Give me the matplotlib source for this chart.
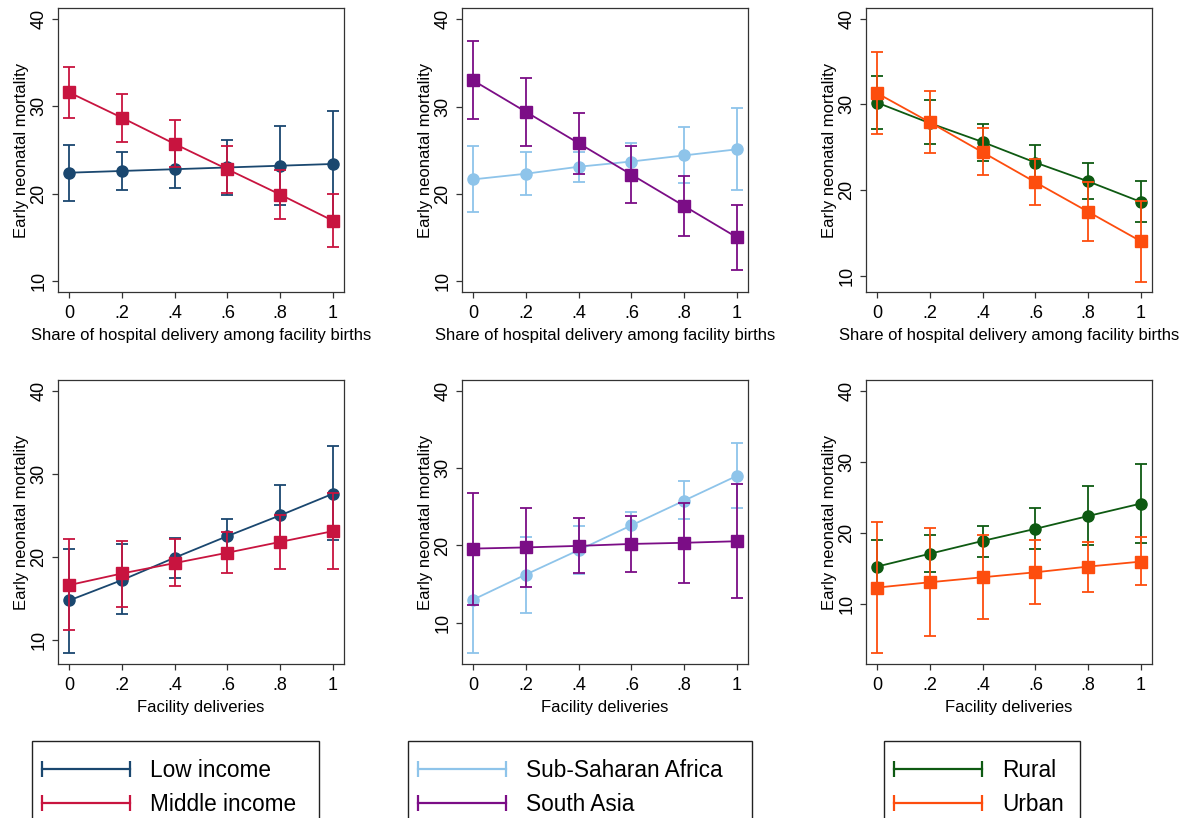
import matplotlib
matplotlib.use('Agg')
import matplotlib.pyplot as plt
from matplotlib.lines import Line2D
from matplotlib.patches import Rectangle

plt.rcParams['font.family'] = ['Liberation Sans', 'DejaVu Sans']

x = [0, 0.2, 0.4, 0.6, 0.8, 1]
xtick_labels = ['0', '.2', '.4', '.6', '.8', '1']

# hospital share panels (top row)
low_hosp = [22.4, 22.6, 22.8, 23.0, 23.2, 23.4]
low_hosp_lo = [19.2, 20.4, 20.6, 19.9, 18.7, 17.3]
low_hosp_hi = [25.6, 24.8, 25.0, 26.2, 27.8, 29.5]
mid_hosp = [31.6, 28.7, 25.7, 22.8, 19.9, 16.9]
mid_hosp_lo = [28.7, 25.9, 23.0, 20.1, 17.1, 13.9]
mid_hosp_hi = [34.5, 31.4, 28.4, 25.5, 22.7, 20.0]

ssa_hosp = [21.65, 22.3, 23.1, 23.7, 24.4, 25.1]
ssa_hosp_lo = [17.9, 19.9, 21.4, 21.6, 21.2, 20.4]
ssa_hosp_hi = [25.5, 24.8, 24.8, 25.8, 27.7, 29.8]
sa_hosp = [33.0, 29.4, 25.8, 22.2, 18.6, 15.0]
sa_hosp_lo = [28.6, 25.5, 22.3, 19.0, 15.2, 11.3]
sa_hosp_hi = [37.5, 33.3, 29.3, 25.5, 22.0, 18.7]

rur_hosp = [30.2, 27.8, 25.6, 23.2, 21.0, 18.6]
rur_hosp_lo = [27.1, 25.4, 23.4, 21.2, 18.9, 16.3]
rur_hosp_hi = [33.25, 30.5, 27.75, 25.3, 23.1, 21.1]
urb_hosp = [31.3, 27.9, 24.4, 20.9, 17.45, 14.0]
urb_hosp_lo = [26.5, 24.3, 21.7, 18.2, 14.0, 9.3]
urb_hosp_hi = [36.1, 31.5, 27.2, 23.6, 20.9, 18.7]

# facility delivery panels (bottom row)
low_fac = [14.75, 17.2, 19.9, 22.5, 25.0, 27.6]
low_fac_lo = [8.4, 13.1, 17.5, 20.4, 21.4, 22.0]
low_fac_hi = [20.9, 21.6, 22.3, 24.6, 28.7, 33.3]
mid_fac = [16.6, 18.0, 19.25, 20.5, 21.8, 23.1]
mid_fac_lo = [11.2, 14.0, 16.5, 18.1, 18.6, 18.6]
mid_fac_hi = [22.1, 21.9, 22.1, 23.0, 25.0, 27.7]

ssa_fac = [13.0, 16.25, 19.4, 22.6, 25.8, 29.0]
ssa_fac_lo = [6.1, 11.3, 16.3, 20.9, 23.4, 24.8]
ssa_fac_hi = [19.9, 21.1, 22.5, 24.3, 28.3, 33.3]
sa_fac = [19.6, 19.75, 19.95, 20.2, 20.35, 20.55]
sa_fac_lo = [12.3, 14.7, 16.5, 16.6, 15.2, 13.2]
sa_fac_hi = [26.8, 24.8, 23.5, 23.8, 25.5, 28.0]

rur_fac = [15.3, 17.1, 18.9, 20.6, 22.4, 24.15]
rur_fac_lo = [11.6, 14.6, 16.7, 17.8, 18.3, 18.6]
rur_fac_hi = [19.0, 19.7, 21.05, 23.5, 26.55, 29.75]
urb_fac = [12.35, 13.1, 13.8, 14.5, 15.3, 16.0]
urb_fac_lo = [3.1, 5.5, 7.9, 10.1, 11.8, 12.7]
urb_fac_hi = [21.6, 20.7, 19.8, 19.1, 18.8, 19.4]

group_labels = [['Low income', 'Middle income'],
                ['Sub-Saharan Africa', 'South Asia'],
                ['Rural', 'Urban']]
group_colors = [['#1a476f', '#c8143f'],
                ['#8ec4ea', '#7b0d86'],
                ['#0e5a12', '#fd4d0e']]

xlab_top = 'Share of hospital delivery among facility births'
xlab_bot = 'Facility deliveries'

# (series A, lo, hi, series B, lo, hi, ylim bottom, ylim top)
panels = [
    [(low_hosp, low_hosp_lo, low_hosp_hi, mid_hosp, mid_hosp_lo, mid_hosp_hi, 8.74, 41.26),
     (ssa_hosp, ssa_hosp_lo, ssa_hosp_hi, sa_hosp, sa_hosp_lo, sa_hosp_hi, 8.74, 41.3),
     (rur_hosp, rur_hosp_lo, rur_hosp_hi, urb_hosp, urb_hosp_lo, urb_hosp_hi, 8.08, 41.25)],
    [(low_fac, low_fac_lo, low_fac_hi, mid_fac, mid_fac_lo, mid_fac_hi, 7.1, 41.3),
     (ssa_fac, ssa_fac_lo, ssa_fac_hi, sa_fac, sa_fac_lo, sa_fac_hi, 4.69, 41.38),
     (rur_fac, rur_fac_lo, rur_fac_hi, urb_fac, urb_fac_lo, urb_fac_hi, 1.62, 41.5)],
]

W, H = 1192, 818
fig = plt.figure(figsize=(W / 100, H / 100), dpi=100)

lefts = [58, 462, 866]
tops = [8, 380]
aw, ah = 286, 284

for r in range(2):
    for c in range(3):
        ya, ya_lo, ya_hi, yb, yb_lo, yb_hi, y0, y1 = panels[r][c]
        ax = fig.add_axes([lefts[c] / W, 1 - (tops[r] + ah) / H, aw / W, ah / H])
        ca, cb = group_colors[c]
        for y, lo, hi, col, mk, ms in [(ya, ya_lo, ya_hi, ca, 'o', 8),
                                        (yb, yb_lo, yb_hi, cb, 's', 8)]:
            err = [[v - l for v, l in zip(y, lo)], [h - v for v, h in zip(y, hi)]]
            ax.errorbar(x, y, yerr=err, fmt='none', ecolor=col, elinewidth=1.3,
                        capsize=4, capthick=1.3)
            ax.plot(x, y, color=col, lw=1.3, marker=mk, ms=ms, mec=col, mfc=col)
        ax.set_xlim(-0.042, 1.042)
        ax.set_ylim(y0, y1)
        ax.set_xticks(x)
        ax.set_xticklabels(xtick_labels)
        ax.set_yticks([10, 20, 30, 40])
        ax.set_yticklabels(['10', '20', '30', '40'], rotation=90, va='center')
        ax.tick_params(labelsize=13, length=4.5, width=0.9, color='#333333', pad=3)
        ax.tick_params(axis='x', pad=5)
        for s in ax.spines.values():
            s.set_color('#333333')
            s.set_linewidth(0.9)
        ax.set_ylabel('Early neonatal mortality', fontsize=12, labelpad=1)
        ax.set_xlabel(xlab_top if r == 0 else xlab_bot, fontsize=12, labelpad=4)

# legend boxes, cut off at the bottom like the source
boxes = [(32, 319), (408, 752), (884, 1080)]
fs = 16.3
for c in range(3):
    bx0, bx1 = boxes[c]
    rect = Rectangle((bx0 / W, -0.05), (bx1 - bx0) / W, 0.05 + 1 - 741 / H,
                     transform=fig.transFigure, fill=False, ec='#222222', lw=1.0)
    fig.add_artist(rect)
    handles = [Line2D([], [], color=col, lw=1.6, marker='|', ms=12, mew=1.6)
               for col in group_colors[c]]
    fig.legend(handles, group_labels[c], loc='upper left',
               bbox_to_anchor=((bx0 + 3) / W, 1 - 759 / H), frameon=False,
               fontsize=fs, numpoints=2, handlelength=4.5, handletextpad=0.58,
               labelspacing=0.48, borderpad=0, borderaxespad=0)

fig.savefig('out.png', dpi=100)
